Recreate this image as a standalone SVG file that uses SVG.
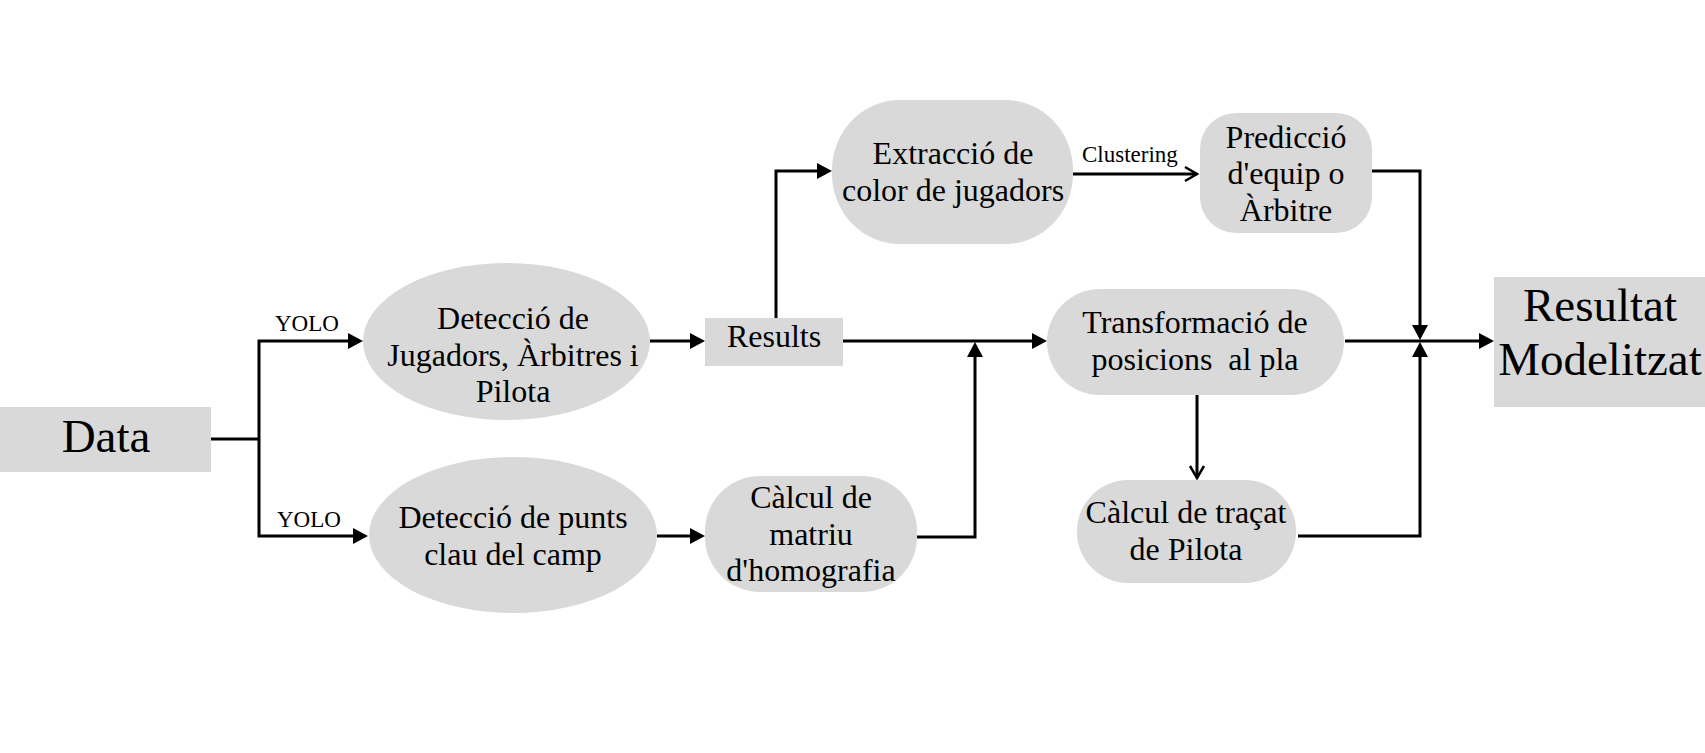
<svg xmlns="http://www.w3.org/2000/svg" width="1705" height="753" viewBox="0 0 1705 753">
<style>
.node{fill:#d9d9d9;stroke:none}
.t{font-family:"Liberation Serif","Times New Roman",serif;font-size:32px;fill:#000;text-anchor:middle}
.big{font-size:47px}
.lbl{font-family:"Liberation Serif","Times New Roman",serif;font-size:23px;fill:#000}
.c{fill:none;stroke:#000;stroke-width:3;stroke-linejoin:miter}
.ca{marker-end:url(#fa)}
.co{marker-end:url(#oa)}
</style>
<defs>
<marker id="fa" markerUnits="userSpaceOnUse" markerWidth="16" markerHeight="16" refX="4" refY="8" orient="auto" overflow="visible">
<path d="M0,0 L15,8 L0,16 z" fill="#000"/>
</marker>
<marker id="oa" markerUnits="userSpaceOnUse" markerWidth="14" markerHeight="16" refX="12" refY="7" orient="auto" overflow="visible">
<path d="M0,0 L12,7 L0,14" fill="none" stroke="#000" stroke-width="2.5"/>
</marker>
</defs>
<rect width="1705" height="753" fill="#fff"/>

<g id="connectors">
<path class="c" d="M211,439 H259"/>
<path class="c ca" d="M259,439 V341 H352"/>
<path class="c ca" d="M259,439 V536 H357"/>
<path class="c ca" d="M650,341 H694"/>
<path class="c ca" d="M657,536 H694"/>
<path class="c ca" d="M776,318 V171 H821"/>
<path class="c co" d="M1073,174 H1197"/>
<path class="c ca" d="M843,341 H1036"/>
<path class="c ca" d="M917,537 H975 V353"/>
<path class="c ca" d="M1372,171 H1420 V329"/>
<path class="c ca" d="M1345,341 H1483"/>
<path class="c ca" d="M1298,536 H1420 V353"/>
<path class="c co" d="M1197,395 V478"/>
<text class="lbl" x="275" y="331">YOLO</text>
<text class="lbl" x="277" y="527">YOLO</text>
<text class="lbl" x="1082" y="162">Clustering</text>
</g>

<g id="data">
<rect class="node" x="0" y="407" width="211" height="65"/>
<text class="t big" x="106" y="452">Data</text>
</g>

<g id="deteccio-jugadors">
<ellipse class="node" cx="506.5" cy="341.5" rx="143.5" ry="78.5"/>
<text class="t" x="513" y="329">Detecció de</text>
<text class="t" x="513" y="366">Jugadors, Àrbitres i</text>
<text class="t" x="513" y="402">Pilota</text>
</g>

<g id="results">
<rect class="node" x="705" y="318" width="138" height="48"/>
<text class="t" x="774" y="347">Results</text>
</g>

<g id="deteccio-punts">
<ellipse class="node" cx="513" cy="535" rx="144" ry="78"/>
<text class="t" x="513" y="528">Detecció de punts</text>
<text class="t" x="513" y="565">clau del camp</text>
</g>

<g id="calcul-matriu">
<rect class="node" x="705" y="476" width="212" height="116" rx="55" ry="55"/>
<text class="t" x="811" y="508">Càlcul de</text>
<text class="t" x="811" y="545">matriu</text>
<text class="t" x="811" y="581">d'homografia</text>
</g>

<g id="extraccio">
<rect class="node" x="832" y="100" width="241" height="144" rx="68" ry="70"/>
<text class="t" x="953" y="164">Extracció de</text>
<text class="t" x="953" y="201">color de jugadors</text>
</g>

<g id="prediccio">
<rect class="node" x="1200" y="113" width="172" height="120" rx="36" ry="36"/>
<text class="t" x="1286" y="147.5">Predicció</text>
<text class="t" x="1286" y="184">d'equip o</text>
<text class="t" x="1286" y="220.5">Àrbitre</text>
</g>

<g id="transformacio">
<rect class="node" x="1047" y="289" width="297" height="106" rx="53" ry="53"/>
<text class="t" x="1195" y="333">Transformació de</text>
<text class="t" x="1195" y="370" xml:space="preserve">posicions  al pla</text>
</g>

<g id="calcul-tracat">
<rect class="node" x="1077" y="480" width="219" height="103" rx="51" ry="51"/>
<text class="t" x="1186" y="523">Càlcul de traçat</text>
<text class="t" x="1186" y="560">de Pilota</text>
</g>

<g id="resultat">
<rect class="node" x="1494" y="277" width="211" height="130"/>
<text class="t big" x="1600" y="321">Resultat</text>
<text class="t big" x="1600" y="375">Modelitzat</text>
</g>
</svg>
